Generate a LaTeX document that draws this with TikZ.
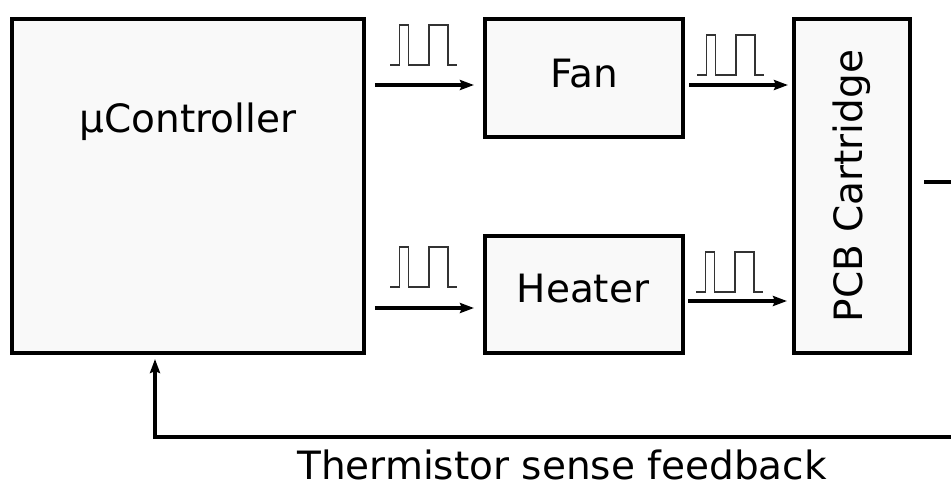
\documentclass[tikz,border=0pt]{standalone}
\usepackage{fontspec}
\setmainfont{DejaVu Sans}
\usetikzlibrary{arrows.meta}

% one PWM pulse train glyph, anchored at its lower left end
\newcommand{\pwm}[1]{\draw[pulse] (#1) -- ++(9.5,0) -- ++(0,-40) -- ++(9,0) -- ++(0,40)
    -- ++(20.5,0) -- ++(0,-40) -- ++(19,0) -- ++(0,40) -- ++(9,0);}

\begin{document}
\begin{tikzpicture}[x=1pt, y=-1pt,
    box/.style={draw=black, line width=4pt, fill=black!2.5, inner sep=0pt},
    sig/.style={line width=3.4pt, -{Stealth[length=14pt, width=10pt, inset=2pt]}},
    pulse/.style={line width=1.8pt, black!80},
    lbl/.style={font=\fontsize{39}{44}\selectfont}]
    \useasboundingbox (0,0) rectangle (951,483);
    % blocks
    \node[box, minimum width=351.5, minimum height=334] (uc) at (188,186) {};
    \node[lbl] (uctext) at (188,122) {µController};
    \node[box, minimum width=198, minimum height=118] (fan) at (584,78) {};
    \node[lbl] (fantext) at (584,74) {Fan};
    \node[box, minimum width=198, minimum height=117] (heater) at (584,294.5) {};
    \node[lbl] (heatertext) at (583,289) {Heater};
    \node[box, lbl, minimum width=334, minimum height=116, rotate=90] (pcb) at (852,186) {PCB Cartridge};
    % drive signals
    \draw[sig, shorten <=9pt, shorten >=9pt] (uc.east |- 0,85) -- (fan.west |- 0,85);
    \draw[sig, shorten <=9pt, shorten >=9pt] (uc.east |- 0,308) -- (heater.west |- 0,308);
    \draw[sig, shorten <=4pt, shorten >=4pt] (fan.east |- 0,85) -- (pcb.north |- 0,85);
    \draw[sig, shorten <=3pt, shorten >=5pt] (heater.east |- 0,301) -- (pcb.north |- 0,301);
    \pwm{390,65}
    \pwm{697,75}
    \pwm{390,287}
    \pwm{696,292}
    % feedback path
    \coordinate (pcbout) at (951,182);
    \coordinate (fbend) at (951,437);
    \draw[line width=3.4pt, shorten <=12pt] (pcb.south |- pcbout) -- (pcbout);
    \draw[sig, shorten >=4pt] (fbend) -| (uc.south -| 155,0);
    \node[lbl, inner sep=0pt] (fbtext) at (562,465) {Thermistor sense feedback};
\end{tikzpicture}
\end{document}
